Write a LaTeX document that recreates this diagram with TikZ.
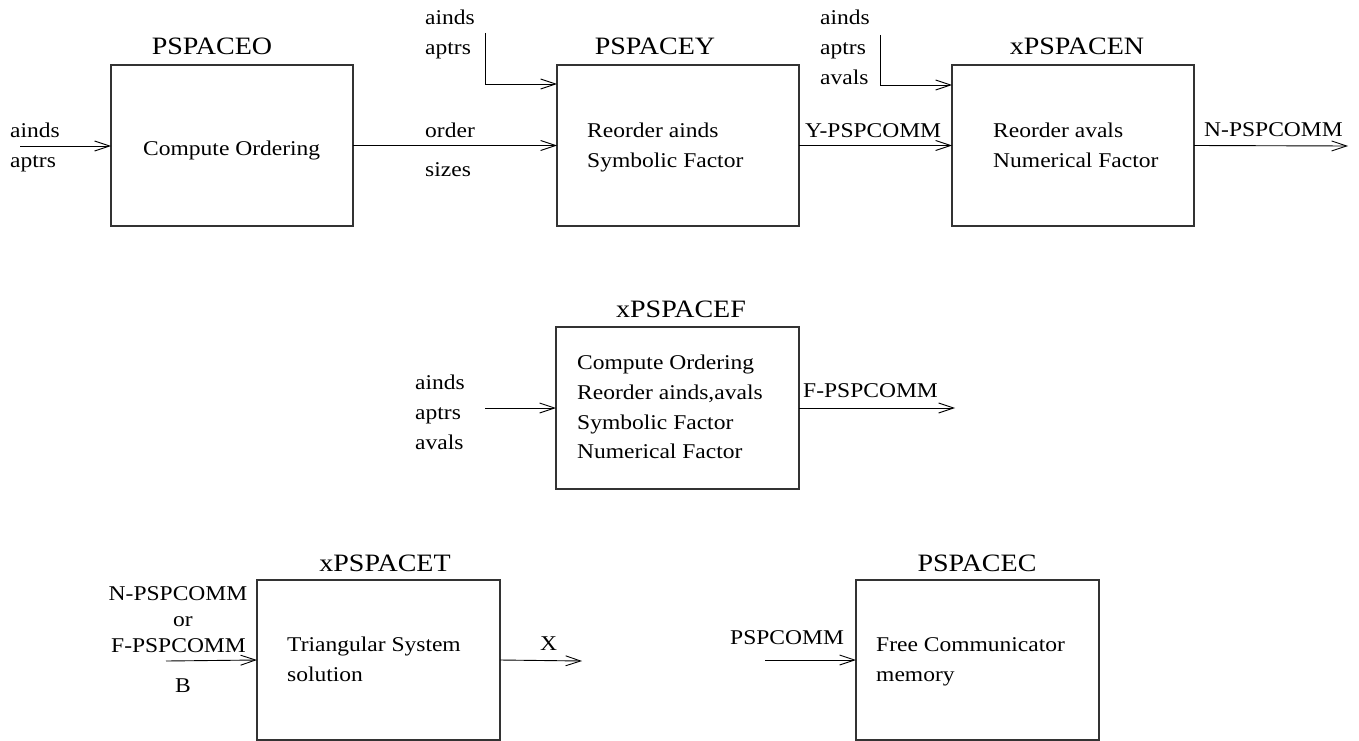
\documentclass[tikz,border=0pt]{standalone}
\usepackage{fontspec}
\setmainfont{Liberation Serif}[FakeStretch=1.12]
\usetikzlibrary{arrows.meta,calc}
\begin{document}
\begin{tikzpicture}[x=1pt,y=-1pt,
  lbl/.style={font=\fontsize{21}{25}\selectfont, inner sep=0pt, anchor=base west},
  clbl/.style={font=\fontsize{21}{25}\selectfont, inner sep=0pt, anchor=base},
  ttl/.style={font=\fontsize{25}{29}\selectfont, inner sep=0pt, anchor=base},
  box/.style={draw=black!80, line width=1.1pt, minimum width=242pt, minimum height=161pt, anchor=north west, inner sep=0pt, outer sep=0pt},
  arr/.style={-{Straight Barb[length=15pt,width=10pt]}, line width=0.9pt}]
\useasboundingbox (0,0) rectangle (1359,741);

% ---------- boxes ----------
\node[box] (O) at (111,65) {};
\node[box] (Y) at (557,65) {};
\node[box] (N) at (952,65) {};
\node[box, minimum width=243pt, minimum height=162pt] (F) at (556,327) {};
\node[box, minimum width=243pt, minimum height=160pt] (T) at (257,580) {};
\node[box, minimum width=243pt, minimum height=160pt] (C) at (856,580) {};

% ---------- titles ----------
\node[ttl] (tO) at (212,55) {PSPACEO};
\node[ttl] (tY) at (655,55) {PSPACEY};
\node[ttl] (tN) at (1077,55) {xPSPACEN};
\node[ttl] (tF) at (681,317) {xPSPACEF};
\node[ttl] (tT) at (385,571) {xPSPACET};
\node[ttl] (tC) at (977,571) {PSPACEC};

% ---------- box contents ----------
\node[lbl] (cO1) at (143,155) {Compute Ordering};
\node[lbl] (cY1) at (587,137) {Reorder ainds};
\node[lbl] (cY2) at (587,167) {Symbolic Factor};
\node[lbl] (cN1) at (993,137) {Reorder avals};
\node[lbl] (cN2) at (993,167) {Numerical Factor};
\node[lbl] (cF1) at (577,369) {Compute Ordering};
\node[lbl] (cF2) at (577,399) {Reorder ainds,avals};
\node[lbl] (cF3) at (577,429) {Symbolic Factor};
\node[lbl] (cF4) at (577,458) {Numerical Factor};
\node[lbl] (cT1) at (287,651) {Triangular System};
\node[lbl] (cT2) at (287,681) {solution};
\node[lbl] (cC1) at (876,651) {Free Communicator};
\node[lbl] (cC2) at (876,681) {memory};

% ---------- labels ----------
\node[lbl] (lO1) at (10,137) {ainds};
\node[lbl] (lO2) at (10,167) {aptrs};
\node[lbl] (lOY1) at (425,137) {order};
\node[lbl] (lOY2) at (425,176) {sizes};
\node[lbl] (lY1) at (425,25) {ainds};
\node[lbl] (lY2) at (425,55) {aptrs};
\node[lbl] (lN1) at (820,25) {ainds};
\node[lbl] (lN2) at (820,55) {aptrs};
\node[lbl] (lN3) at (820,85) {avals};
\node[lbl] (lYN) at (805,137) {Y-PSPCOMM};
\node[lbl] (lNo) at (1204,136) {N-PSPCOMM};
\node[lbl] (lF1) at (415,389) {ainds};
\node[lbl] (lF2) at (415,419) {aptrs};
\node[lbl] (lF3) at (415,449) {avals};
\node[lbl] (lFo) at (803,397) {F-PSPCOMM};
\node[clbl] (lT1) at (178,600) {N-PSPCOMM};
\node[clbl] (lT2) at (183,626) {or};
\node[clbl] (lT3) at (178.5,652) {F-PSPCOMM};
\node[clbl] (lT4) at (183,692) {B};
\node[clbl] (lTo) at (548.5,650) {X};
\node[lbl] (lC) at (730,644) {PSPCOMM};

% ---------- free ends ----------
\coordinate (inO) at (20,146);
\coordinate (inY) at (485,33);
\coordinate (inN) at (880,35);
\coordinate (outN) at (1348,146);
\coordinate (inF) at (485,408);
\coordinate (outF) at (955,408);
\coordinate (inT) at (166,661);
\coordinate (outT) at (582,661);
\coordinate (inC) at (765,660);

% ---------- connectors ----------
\draw[arr] (inO) -- (inO -| O.west);
\draw[arr] (O.east) -- (Y.west);
\draw[arr] (inY) |- ($(Y.north west)+(0,19)$);
\draw[arr] (Y.east) -- (N.west);
\draw[arr] (inN) |- ($(N.north west)+(0,20)$);
\draw[arr] (N.east) -- (outN);
\draw[arr] (inF) -- (F.west);
\draw[arr] (F.east) -- (outF);
\draw[arr] (inT) -- (T.west);
\draw[arr] (T.east) -- (outT);
\draw[arr] (inC) -- (C.west);
\end{tikzpicture}
\end{document}
